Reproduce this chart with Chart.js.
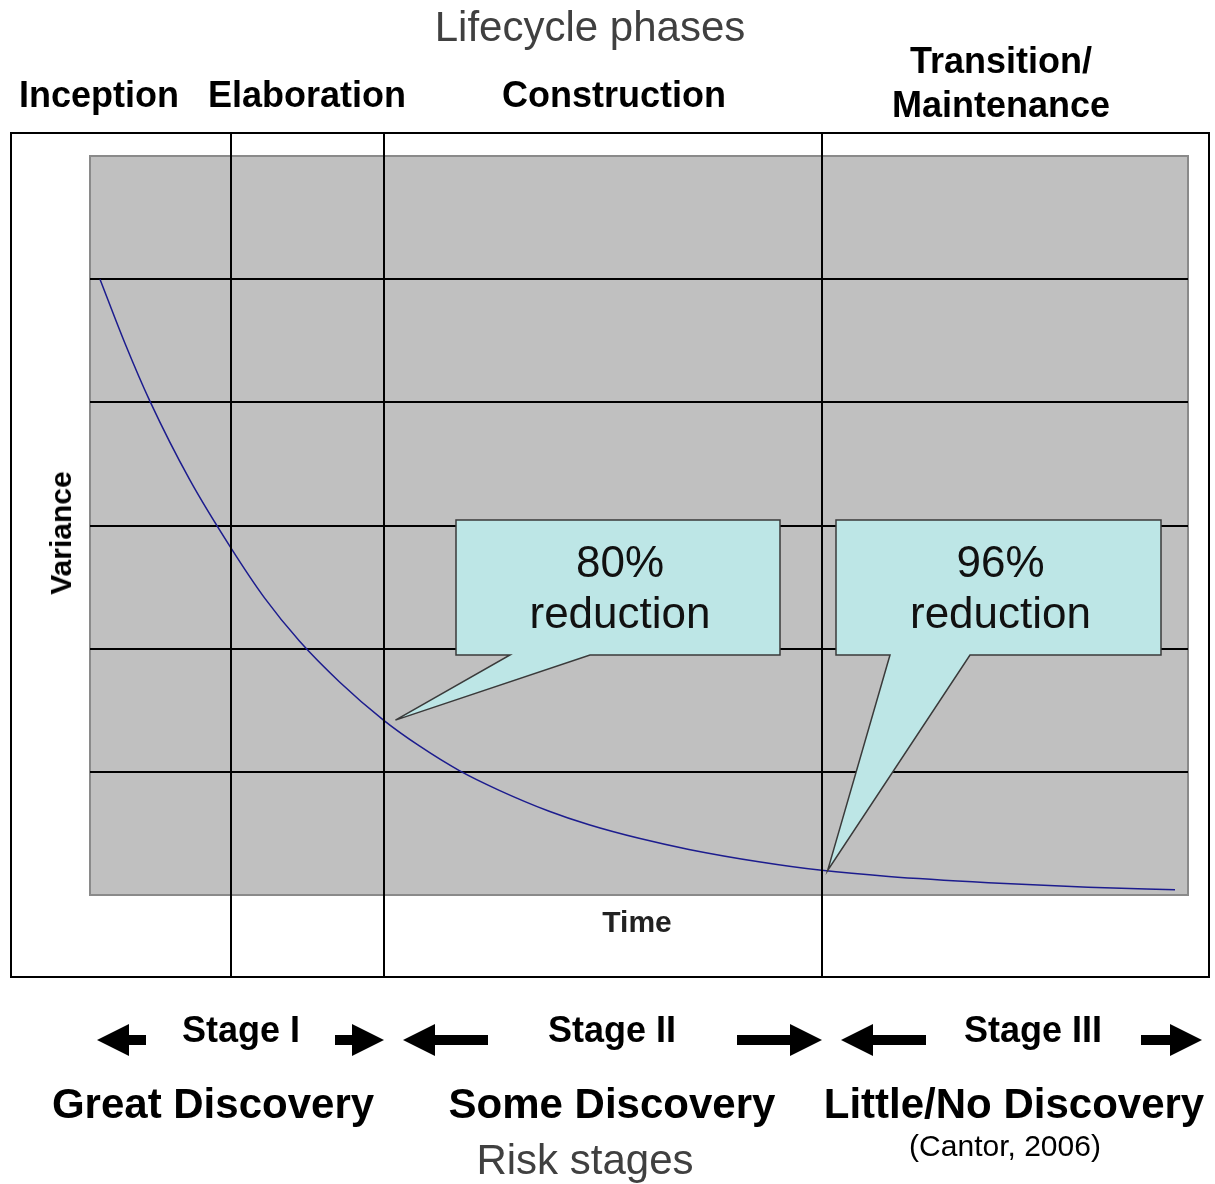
<!DOCTYPE html>
<html>
<head>
<meta charset="utf-8">
<script src="https://cdn.jsdelivr.net/npm/chart.js@4.4.0/dist/chart.umd.min.js"></script>
<style>
  html, body { margin: 0; padding: 0; background: #fff; }
  #wrap { position: relative; width: 1215px; height: 1184px; overflow: hidden; }
  #chart { position: absolute; left: 0; top: 0; }
  .lbl {
    position: absolute; white-space: nowrap; line-height: 1;
    font-family: "Liberation Sans", Arial, sans-serif; color: #000;
    transform: translateX(-50%);
  }
  .b { font-weight: bold; }
  .grey { color: #404040; }
</style>
</head>
<body>
<div id="wrap">
  <canvas id="chart" width="1215" height="1184"></canvas>

  <div class="lbl grey" style="left:590px; top:6px; font-size:42px;">Lifecycle phases</div>
  <div class="lbl b" style="left:99px; top:77px; font-size:36px;">Inception</div>
  <div class="lbl b" style="left:307px; top:77px; font-size:36px;">Elaboration</div>
  <div class="lbl b" style="left:614px; top:77px; font-size:36px;">Construction</div>
  <div class="lbl b" style="left:1001px; top:43px; font-size:36px;">Transition/</div>
  <div class="lbl b" style="left:1001px; top:87px; font-size:36px;">Maintenance</div>

  <div class="lbl b" style="left:61px; top:533px; font-size:30px; transform:translate(-50%,-50%) rotate(-90deg);">Variance</div>
  <div class="lbl b" style="left:637px; top:907px; font-size:30px; color:#222;">Time</div>

  <div class="lbl b" style="left:241px; top:1012px; font-size:36px;">Stage I</div>
  <div class="lbl b" style="left:612px; top:1012px; font-size:36px;">Stage II</div>
  <div class="lbl b" style="left:1033px; top:1012px; font-size:36px;">Stage III</div>

  <div class="lbl b" style="left:213px; top:1083px; font-size:42px;">Great Discovery</div>
  <div class="lbl b" style="left:612px; top:1083px; font-size:42px;">Some Discovery</div>
  <div class="lbl b" style="left:1014px; top:1083px; font-size:42px;">Little/No Discovery</div>
  <div class="lbl" style="left:1005px; top:1131px; font-size:30px;">(Cantor, 2006)</div>
  <div class="lbl grey" style="left:585px; top:1139px; font-size:42px;">Risk stages</div>
</div>

<script>
// courbe de variance
const timePoints = [1, 3.5, 6, 10, 14.1, 17.5, 21, 25, 29.4, 33, 37, 41, 46, 50, 55, 60, 67, 73.3, 80, 90, 100, 108.7]
const varianceValues = [5.0, 4.48, 4.01, 3.37, 2.82, 2.41, 2.06, 1.73, 1.42, 1.21, 1.01, 0.85, 0.68, 0.57, 0.46, 0.37, 0.27, 0.20, 0.15, 0.10, 0.063, 0.042]

// limites des phases (axe du temps)
const phaseBoundaries = [14.13, 29.45, 73.33]

// bulles : texte + point visé sur la courbe
const calloutPct = ["80%", "96%"]
const calloutTipX = [30.6, 73.9]
const calloutTipY = [1.42, 0.2]

// mise en page des bulles (pixels)
const calloutBoxes = [
  { x1: 456, y1: 520, x2: 780, y2: 655, b1: 510, b2: 590 },
  { x1: 836, y1: 520, x2: 1161, y2: 655, b1: 890, b2: 970 },
]

function drawArrow(ctx, xa, xb, y, dir) {
  // dir = -1 : pointe à gauche, 1 : pointe à droite
  const head = 32, hh = 16, sh = 5
  ctx.beginPath()
  if (dir < 0) {
    ctx.moveTo(xa, y)
    ctx.lineTo(xa + head, y - hh)
    ctx.lineTo(xa + head, y - sh)
    ctx.lineTo(xb, y - sh)
    ctx.lineTo(xb, y + sh)
    ctx.lineTo(xa + head, y + sh)
    ctx.lineTo(xa + head, y + hh)
  } else {
    ctx.moveTo(xb, y)
    ctx.lineTo(xb - head, y - hh)
    ctx.lineTo(xb - head, y - sh)
    ctx.lineTo(xa, y - sh)
    ctx.lineTo(xa, y + sh)
    ctx.lineTo(xb - head, y + sh)
    ctx.lineTo(xb - head, y + hh)
  }
  ctx.closePath()
  ctx.fillStyle = "#000"
  ctx.fill()
}

const decorPlugin = {
  id: "decor",
  beforeDraw(chart) {
    const ctx = chart.ctx
    const a = chart.chartArea
    ctx.save()
    ctx.fillStyle = "#fff"
    ctx.fillRect(0, 0, chart.width, chart.height)
    // cadre extérieur
    ctx.strokeStyle = "#000"
    ctx.lineWidth = 2
    ctx.strokeRect(11, 133, 1198, 844)
    // zone grise
    ctx.fillStyle = "#c0c0c0"
    ctx.fillRect(a.left, a.top, a.right - a.left, a.bottom - a.top)
    ctx.strokeStyle = "#8a8a8a"
    ctx.lineWidth = 2
    ctx.strokeRect(a.left, a.top, a.right - a.left, a.bottom - a.top)
    ctx.restore()
  },
  afterDatasetsDraw(chart) {
    const ctx = chart.ctx
    const xs = chart.scales.x
    const ys = chart.scales.y
    ctx.save()
    // lignes verticales des phases
    ctx.strokeStyle = "#000"
    ctx.lineWidth = 2
    phaseBoundaries.forEach((v) => {
      const px = Math.round(xs.getPixelForValue(v))
      ctx.beginPath()
      ctx.moveTo(px, 133)
      ctx.lineTo(px, 977)
      ctx.stroke()
    })
    // bulles
    calloutBoxes.forEach((b, i) => {
      const tx = xs.getPixelForValue(calloutTipX[i])
      const ty = ys.getPixelForValue(calloutTipY[i])
      ctx.beginPath()
      ctx.moveTo(b.x1, b.y1)
      ctx.lineTo(b.x2, b.y1)
      ctx.lineTo(b.x2, b.y2)
      ctx.lineTo(b.b2, b.y2)
      ctx.lineTo(tx, ty)
      ctx.lineTo(b.b1, b.y2)
      ctx.lineTo(b.x1, b.y2)
      ctx.closePath()
      ctx.fillStyle = "#bde6e6"
      ctx.fill()
      ctx.strokeStyle = "#3a3a3a"
      ctx.lineWidth = 1.5
      ctx.stroke()
      const cx = (b.x1 + b.x2) / 2 + 2
      ctx.fillStyle = "#111"
      ctx.font = "44px 'Liberation Sans', Arial, sans-serif"
      ctx.textAlign = "center"
      ctx.textBaseline = "alphabetic"
      ctx.fillText(calloutPct[i], cx, b.y1 + 57)
      ctx.fillText("reduction", cx, b.y1 + 108)
    })
    // flèches des étapes
    drawArrow(ctx, 97, 146, 1040, -1)
    drawArrow(ctx, 335, 384, 1040, 1)
    drawArrow(ctx, 403, 488, 1040, -1)
    drawArrow(ctx, 737, 822, 1040, 1)
    drawArrow(ctx, 841, 926, 1040, -1)
    drawArrow(ctx, 1141, 1202, 1040, 1)
    ctx.restore()
  },
}

const ctx = document.getElementById("chart").getContext("2d")
new Chart(ctx, {
  type: "line",
  data: {
    datasets: [
      {
        data: timePoints.map((t, i) => ({ x: t, y: varianceValues[i] })),
        borderColor: "#1c1c8e",
        borderWidth: 1.5,
        pointRadius: 0,
        cubicInterpolationMode: "monotone",
        fill: false,
      },
    ],
  },
  options: {
    responsive: false,
    animation: false,
    devicePixelRatio: 1,
    layout: { padding: { left: 90, right: 27, top: 156, bottom: 289 } },
    plugins: { legend: { display: false }, tooltip: { enabled: false } },
    scales: {
      x: { type: "linear", min: 0, max: 110, display: false },
      y: {
        min: 0,
        max: 6,
        ticks: { display: false, stepSize: 1 },
        border: { display: false },
        grid: {
          drawTicks: false,
          lineWidth: 2,
          color: (c) => (c.tick.value > 0 && c.tick.value < 6 ? "#000" : "rgba(0,0,0,0)"),
        },
      },
    },
  },
  plugins: [decorPlugin],
})
</script>
</body>
</html>
